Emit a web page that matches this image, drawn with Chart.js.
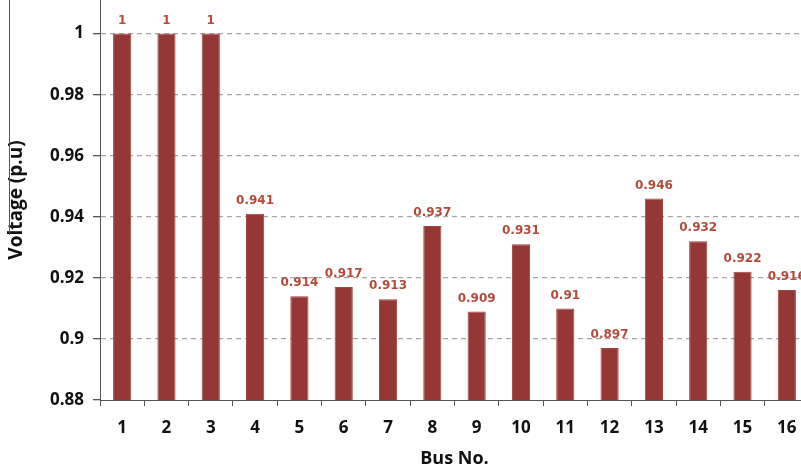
<!DOCTYPE html>
<html>
<head>
<meta charset="utf-8">
<script src="https://cdn.jsdelivr.net/npm/chart.js@4/dist/chart.umd.min.js"></script>
<style>
  html, body { margin: 0; padding: 0; background: #fff; overflow: hidden; }
  #wrap { position: relative; width: 812px; height: 473px; }
</style>
</head>
<body>
<div id="wrap"><canvas id="chart"></canvas></div>
<script>
// Bus voltage profile
const buses = ['1', '2', '3', '4', '5', '6', '7', '8', '9', '10', '11', '12', '13', '14', '15', '16'];
const voltages = [1, 1, 1, 0.941, 0.914, 0.917, 0.913, 0.937, 0.909, 0.931, 0.91, 0.897, 0.946, 0.932, 0.922, 0.916];
const yTicks = [0.88, 0.9, 0.92, 0.94, 0.96, 0.98, 1];

const axisFont = { family: 'Open Sans', size: 17, weight: 'bold' };

// value labels above each bar
const barLabels = {
  id: 'barLabels',
  afterDatasetsDraw(chart) {
    const ctx = chart.ctx;
    const meta = chart.getDatasetMeta(0);
    ctx.save();
    ctx.font = 'bold 12px "DejaVu Sans"';
    ctx.fillStyle = '#b34a3c';
    ctx.textAlign = 'center';
    ctx.textBaseline = 'middle';
    meta.data.forEach((bar, i) => {
      ctx.fillText(String(voltages[i]), bar.x, bar.y - 13);
    });
    ctx.restore();
  }
};

// thin rule at the far left of the figure
const leftRule = {
  id: 'leftRule',
  afterDraw(chart) {
    const ctx = chart.ctx;
    ctx.save();
    ctx.strokeStyle = '#555';
    ctx.lineWidth = 1;
    ctx.beginPath();
    ctx.moveTo(9.5, 0);
    ctx.lineTo(9.5, 235);
    ctx.stroke();
    ctx.restore();
  }
};

new Chart(document.getElementById('chart').getContext('2d'), {
  type: 'bar',
  data: {
    labels: buses,
    datasets: [{
      data: voltages,
      backgroundColor: '#953735',
      borderColor: '#a3443f',
      borderWidth: 1,
      barPercentage: 0.41,
      categoryPercentage: 1
    }]
  },
  options: {
    responsive: true,
    maintainAspectRatio: false,
    animation: false,
    layout: { padding: { left: 4, right: 3, top: 0, bottom: 0 } },
    plugins: {
      legend: { display: false },
      tooltip: { enabled: false }
    },
    scales: {
      x: {
        grid: {
          offset: true,
          drawOnChartArea: false,
          tickLength: 6,
          tickColor: '#555',
          lineWidth: 1
        },
        border: { color: '#555', width: 1 },
        ticks: { color: '#111', font: axisFont, padding: 12 },
        title: {
          display: true,
          text: 'Bus No.',
          color: '#111',
          font: { family: 'Open Sans', size: 18, weight: 'bold' },
          padding: { top: 2, bottom: 3 }
        },
        afterFit(scale) { scale.height = 73; }
      },
      y: {
        min: 0.88,
        max: 1.011,
        afterBuildTicks(scale) {
          scale.ticks = yTicks.map(v => ({ value: v }));
        },
        grid: {
          color: (c) => c.tick && c.tick.value === 0.88 ? 'rgba(0,0,0,0)' : '#a6a6a6',
          lineWidth: 1.3,
          tickLength: 7,
          tickColor: '#555',
          tickBorderDash: []
        },
        border: { color: '#555', width: 1, dash: [5, 4] },
        ticks: {
          color: '#111',
          font: axisFont,
          padding: 9,
          callback: (v) => String(Math.round(v * 1000) / 1000)
        },
        title: {
          display: true,
          text: 'Voltage (p.u)',
          color: '#111',
          font: { family: 'Open Sans', size: 19, weight: 'bold' },
          padding: { top: 1, bottom: 2 }
        },
        afterFit(scale) {
          scale.width = 96;
          scale.paddingTop = 0;
          scale.paddingBottom = 0;
        }
      }
    }
  },
  plugins: [barLabels, leftRule]
});
</script>
</body>
</html>
